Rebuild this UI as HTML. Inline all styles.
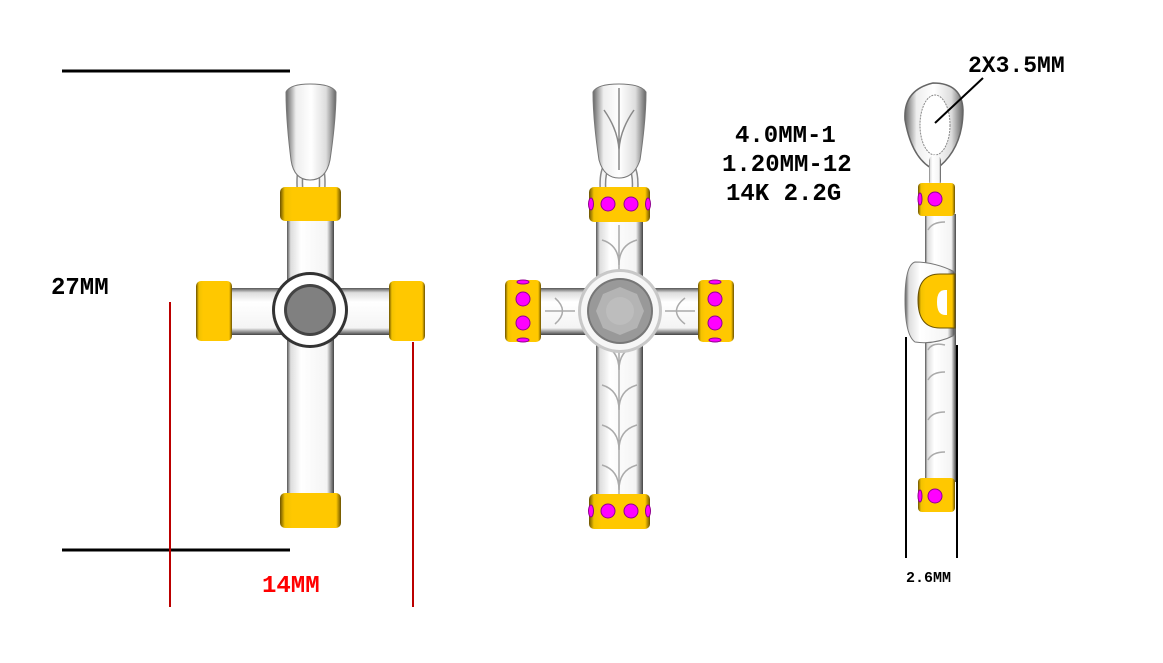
<!DOCTYPE html>
<html><head><meta charset="utf-8"><style>
html,body{margin:0;padding:0;background:#fff;}
svg{display:block;}
text{font-family:"Liberation Mono","DejaVu Sans Mono",monospace;font-weight:bold;}
</style></head><body>
<svg width="1163" height="663" viewBox="0 0 1163 663" xmlns="http://www.w3.org/2000/svg">
<defs>
<linearGradient id="sv" x1="0" x2="1" y1="0" y2="0">
<stop offset="0" stop-color="#555"/><stop offset="0.08" stop-color="#ddd"/><stop offset="0.3" stop-color="#fff"/><stop offset="0.85" stop-color="#f4f4f4"/><stop offset="1" stop-color="#444"/>
</linearGradient>
<linearGradient id="svh" x1="0" x2="0" y1="0" y2="1">
<stop offset="0" stop-color="#555"/><stop offset="0.1" stop-color="#ddd"/><stop offset="0.3" stop-color="#fff"/><stop offset="0.85" stop-color="#f4f4f4"/><stop offset="1" stop-color="#444"/>
</linearGradient>
<linearGradient id="gd" x1="0" x2="1">
<stop offset="0" stop-color="#6b5200"/><stop offset="0.08" stop-color="#f2c200"/><stop offset="0.2" stop-color="#ffc800"/><stop offset="0.92" stop-color="#ffc800"/><stop offset="1" stop-color="#6b5200"/>
</linearGradient>
<linearGradient id="bail" x1="0" x2="1">
<stop offset="0" stop-color="#666"/><stop offset="0.2" stop-color="#eee"/><stop offset="0.5" stop-color="#fff"/><stop offset="0.8" stop-color="#ddd"/><stop offset="1" stop-color="#666"/>
</linearGradient>
</defs>

<line x1="62" y1="71" x2="290" y2="71" stroke="#000" stroke-width="3"/>
<line x1="62" y1="550" x2="290" y2="550" stroke="#000" stroke-width="3"/>
<line x1="170" y1="302" x2="170" y2="607" stroke="#b00" stroke-width="2"/>
<line x1="413" y1="342" x2="413" y2="607" stroke="#b00" stroke-width="2"/>
<text x="51" y="294" font-size="24" fill="#000">27MM</text>
<text x="262" y="592" font-size="24" fill="#f00">14MM</text>

<!-- LEFT CROSS -->
<path d="M300 190 Q298 160 310 158 Q324 158 322 190" fill="none" stroke="#888" stroke-width="7"/>
<path d="M300 190 Q298 160 310 158 Q324 158 322 190" fill="none" stroke="#f4f4f4" stroke-width="4"/>
<path d="M286 92 Q290 84 310 84 Q332 84 336 92 Q336 120 330 160 Q326 180 310 180 Q294 180 291 160 Q286 120 286 92Z" fill="url(#bail)" stroke="#777" stroke-width="1"/>
<rect x="287" y="215" width="47" height="285" fill="url(#sv)"/>
<rect x="225" y="288" width="175" height="47" fill="url(#svh)"/>
<circle cx="310" cy="310" r="38" fill="#333"/>
<circle cx="310" cy="310" r="35" fill="#fff"/>
<circle cx="310" cy="310" r="26" fill="#444"/>
<circle cx="310" cy="310" r="23" fill="#808080"/>
<rect x="280" y="187" width="61" height="34" rx="5" fill="url(#gd)"/>
<rect x="280" y="493" width="61" height="35" rx="5" fill="url(#gd)"/>
<rect x="196" y="281" width="36" height="60" rx="5" fill="url(#gd)"/>
<rect x="389" y="281" width="36" height="60" rx="5" fill="url(#gd)"/>

<!-- MIDDLE CROSS -->
<path d="M603 190 Q601 160 619 158 Q637 160 635 190" fill="none" stroke="#888" stroke-width="7"/>
<path d="M603 190 Q601 160 619 158 Q637 160 635 190" fill="none" stroke="#f4f4f4" stroke-width="4"/>
<path d="M593 92 Q597 84 619 84 Q641 84 646 92 Q646 120 640 160 Q634 178 619 178 Q604 178 599 160 Q593 120 593 92Z" fill="url(#bail)" stroke="#777" stroke-width="1"/>
<path d="M619 88 V170 M604 110 Q618 130 619 150 Q620 130 634 110" fill="none" stroke="#888" stroke-width="1.5"/>
<rect x="596" y="220" width="47" height="278" fill="url(#sv)"/>
<rect x="540" y="288" width="160" height="47" fill="url(#svh)"/>
<g fill="none" stroke="#aaa" stroke-width="1.5">
<path d="M619 225 V285 M619 340 V495"/>
<path d="M602 240 Q619 245 619 265 Q619 245 637 240"/>
<path d="M602 345 Q619 350 619 370 Q619 350 637 345 M602 385 Q619 390 619 410 Q619 390 637 385 M602 425 Q619 430 619 450 Q619 430 637 425 M602 465 Q619 470 619 490 Q619 470 637 465"/>
<path d="M545 311 H575 M665 311 H695 M555 298 Q570 311 555 324 M685 298 Q668 311 685 324"/>
</g>
<circle cx="620" cy="311" r="42" fill="#c8c8c8"/>
<circle cx="620" cy="311" r="39" fill="#f6f6f6"/>
<circle cx="620" cy="311" r="33" fill="#777"/>
<circle cx="620" cy="311" r="31" fill="#999"/>
<polygon points="620,287 637,294 644,311 637,328 620,335 603,328 596,311 603,294" fill="#b4b4b4"/>
<circle cx="620" cy="311" r="14" fill="#bdbdbd"/>
<rect x="589" y="187" width="61" height="35" rx="5" fill="url(#gd)"/>
<rect x="589" y="494" width="61" height="35" rx="5" fill="url(#gd)"/>
<rect x="505" y="280" width="36" height="62" rx="5" fill="url(#gd)"/>
<rect x="698" y="280" width="36" height="62" rx="5" fill="url(#gd)"/>
<g fill="#f0f" stroke="#900090" stroke-width="1">
<circle cx="608" cy="204" r="7"/><circle cx="631" cy="204" r="7"/>
<ellipse cx="591" cy="204" rx="2.5" ry="6"/><ellipse cx="648" cy="204" rx="2.5" ry="6"/>
<circle cx="608" cy="511" r="7"/><circle cx="631" cy="511" r="7"/>
<ellipse cx="591" cy="511" rx="2.5" ry="6"/><ellipse cx="648" cy="511" rx="2.5" ry="6"/>
<circle cx="523" cy="299" r="7"/><circle cx="523" cy="323" r="7"/>
<ellipse cx="523" cy="282" rx="6" ry="2"/><ellipse cx="523" cy="340" rx="6" ry="2"/>
<circle cx="715" cy="299" r="7"/><circle cx="715" cy="323" r="7"/>
<ellipse cx="715" cy="282" rx="6" ry="2"/><ellipse cx="715" cy="340" rx="6" ry="2"/>
</g>

<text x="735" y="142" font-size="24" fill="#000">4.0MM-1</text>
<text x="722" y="171" font-size="24" fill="#000">1.20MM-12</text>
<text x="726" y="200" font-size="24" fill="#000">14K 2.2G</text>

<!-- RIGHT SIDE VIEW -->
<path d="M933 83 Q962 83 963 110 Q963 150 935 170 Q912 160 905 120 Q903 90 933 83Z" fill="url(#bail)" stroke="#666" stroke-width="1.5"/>
<ellipse cx="935" cy="125" rx="15" ry="30" fill="#fff" stroke="#888" stroke-width="1" stroke-dasharray="2 1"/>
<rect x="929" y="155" width="12" height="32" rx="6" fill="url(#sv)"/>
<rect x="925" y="214" width="31" height="268" fill="url(#sv)"/>
<g fill="none" stroke="#aaa" stroke-width="1.5">
<path d="M928 230 Q932 222 945 222 M928 380 Q932 372 945 372 M928 420 Q932 412 945 412 M928 460 Q932 452 945 452 M928 350 Q932 342 945 345"/>
</g>
<path d="M915 262 Q935 262 955 272 V335 Q935 345 915 342 Q905 335 905 300 Q905 265 915 262Z" fill="url(#sv)" stroke="#777" stroke-width="1"/>
<path d="M918 300 Q918 274 940 274 H955 V328 H940 Q918 328 918 300Z" fill="url(#gd)" stroke="#6b5200" stroke-width="1"/>
<path d="M937 302 Q937 290 945 290 H947 V315 H945 Q937 315 937 302Z" fill="#fff"/>
<rect x="918" y="183" width="37" height="33" rx="4" fill="url(#gd)"/>
<rect x="918" y="478" width="37" height="34" rx="4" fill="url(#gd)"/>
<g fill="#f0f" stroke="#900090" stroke-width="1">
<circle cx="935" cy="199" r="7"/><ellipse cx="920" cy="199" rx="2" ry="6"/>
<circle cx="935" cy="496" r="7"/><ellipse cx="920" cy="496" rx="2" ry="6"/>
</g>
<line x1="906" y1="337" x2="906" y2="558" stroke="#000" stroke-width="2"/>
<line x1="957" y1="345" x2="957" y2="558" stroke="#000" stroke-width="2"/>
<text x="906" y="582" font-size="15" font-weight="normal" fill="#000">2.6MM</text>
<text x="968" y="72" font-size="23" fill="#000">2X3.5MM</text>
<line x1="983" y1="78" x2="935" y2="123" stroke="#000" stroke-width="2"/>
</svg>
</body></html>
